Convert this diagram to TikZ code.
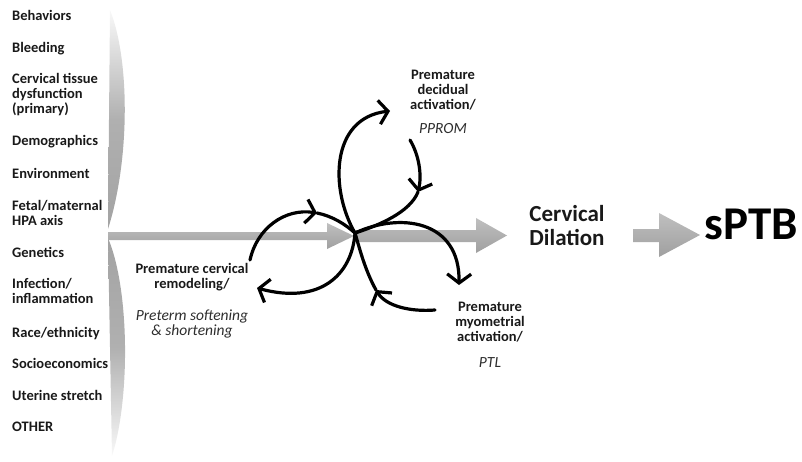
\documentclass[tikz,border=0pt]{standalone}
\usepackage{fontspec}
\setmainfont{Carlito}
\usetikzlibrary{arrows.meta}
\begin{document}
\begin{tikzpicture}[x=1pt,y=-1pt,
  item/.style={anchor=north west, align=left, font=\fontsize{14.5}{15}\selectfont\bfseries, text=black!90, inner sep=0pt},
  lbl/.style={anchor=north, align=center, font=\fontsize{14.5}{15}\selectfont\bfseries, text=black!90, inner sep=0pt},
  ital/.style={anchor=north, align=center, font=\fontsize{15.5}{15}\selectfont\itshape, text=black!82, inner sep=0pt},
  loopline/.style={line width=3.2pt, black, line cap=round},
  tipped/.style={-{Straight Barb[length=9pt,width=24pt]}},
  garrow/.style={top color=gray!50, bottom color=gray!75, draw=none},
  lensup/.style={top color=gray!5, bottom color=gray!72, middle color=gray!62, draw=none},
  lensdown/.style={top color=gray!72, bottom color=gray!5, middle color=gray!62, draw=none}
]
\useasboundingbox (0,0) rectangle (802,462);

% lens shapes
\path[lensup] (110,10) .. controls (130,60) and (130,160) .. (108,229) -- cycle;
\path[lensdown] (108,238) .. controls (130,290) and (130,400) .. (112,456) -- cycle;

% factor list
\node[item] (beh) at (12,10) {Behaviors};
\node[item] (ble) at (12,42) {Bleeding};
\node[item] (cer) at (12,73) {Cervical tissue\\dysfunction\\(primary)};
\node[item] (dem) at (12,135) {Demographics};
\node[item] (env) at (12,168) {Environment};
\node[item] (fet) at (12,200) {Fetal/maternal\\HPA axis};
\node[item] (gen) at (12,247) {Genetics};
\node[item] (inf) at (12,278) {Infection/\\inflammation};
\node[item] (rac) at (12,327) {Race/ethnicity};
\node[item] (soc) at (12,358) {Socioeconomics};
\node[item] (ute) at (12,390) {Uterine stretch};
\node[item] (oth) at (12,422) {OTHER};

% gray arrows
\path[garrow] (108,232) -- (327,232) -- (327,223) -- (354,236) -- (327,249) -- (327,240) -- (108,240) -- cycle;
\path[garrow] (355,230) -- (476,230) -- (476,218) -- (507,235.5) -- (476,253) -- (476,242) -- (355,242) -- cycle;
\path[garrow] (633,229) -- (659,229) -- (659,213) -- (700,235) -- (659,257) -- (659,242) -- (633,242) -- cycle;

% outcome texts
\node[anchor=north, align=center, font=\fontsize{23}{24}\selectfont\bfseries, text=black!90, inner sep=0pt] (dil) at (567,205) {Cervical\\Dilation};
\node[anchor=north, font=\fontsize{47}{50}\selectfont\bfseries, text=black, inner sep=0pt] (sptb) at (751,209) {sPTB};

% trefoil
\coordinate (C) at (355,233);
\coordinate (T1) at (390,111);
\coordinate (T2) at (410,140);
\coordinate (T3) at (418,192);
\coordinate (L1) at (257,288);
\coordinate (L2) at (250,260);
\coordinate (L3) at (317,213);
\coordinate (R1) at (459,285);
\coordinate (R2) at (435,310);
\coordinate (R3) at (376,290);

\draw[loopline,tipped] (C) .. controls (330,190) and (330,118) .. (T1);
\draw[loopline,tipped] (T2) .. controls (419,155) and (422,175) .. (T3);
\draw[loopline] (T3) .. controls (410,212) and (380,225) .. (C);

\draw[loopline,tipped] (C) .. controls (352,275) and (320,305) .. (L1);
\draw[loopline,tipped] (L2) .. controls (257,228) and (285,208) .. (L3);
\draw[loopline] (L3) .. controls (332,216) and (345,224) .. (C);

\draw[loopline,tipped] (C) .. controls (400,212) and (460,220) .. (R1);
\draw[loopline,tipped] (R2) .. controls (410,312) and (386,306) .. (R3);
\draw[loopline] (R3) .. controls (365,270) and (360,250) .. (C);

% labels
\node[lbl] (dec) at (443,70) {Premature\\decidual\\activation/};
\node[ital] (pprom) at (443,123) {PPROM};
\node[lbl] (rem) at (192,263) {Premature cervical\\remodeling/};
\node[ital] (soft) at (192,310) {Preterm softening\\\& shortening};
\node[lbl] (myo) at (490,302) {Premature\\myometrial\\activation/};
\node[ital] (ptl) at (490,357) {PTL};
\end{tikzpicture}
\end{document}
